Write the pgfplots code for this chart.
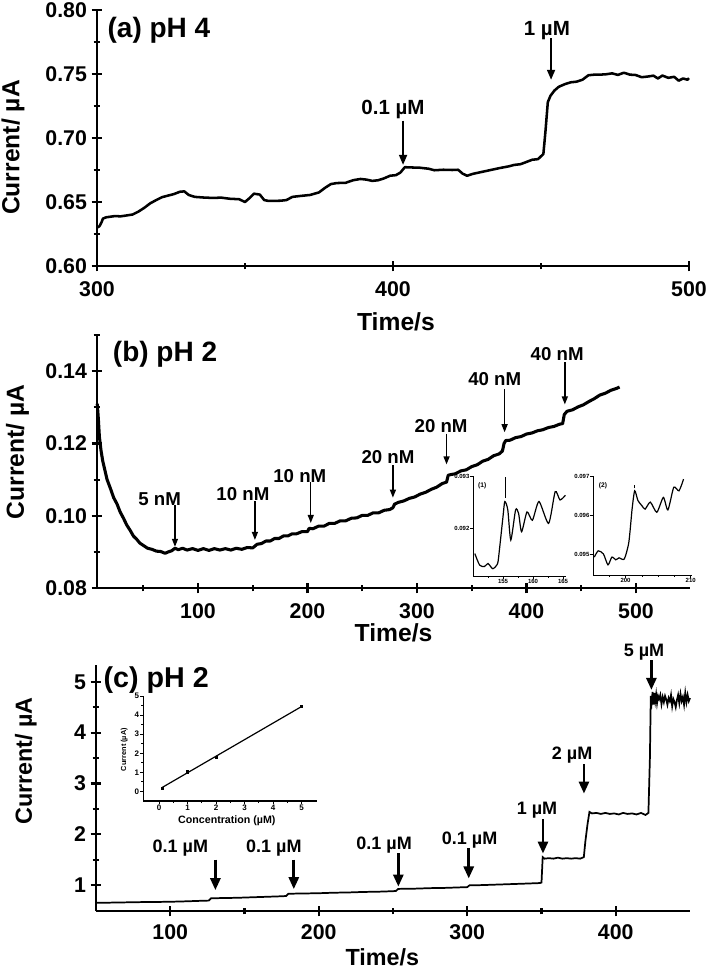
\documentclass[border=0pt]{standalone}
\usepackage{fontspec}
\setmainfont{Liberation Sans}
\usepackage{pgfplots}
\pgfplotsset{compat=1.18}
\usetikzlibrary{arrows.meta}
\newcommand\fs[1]{\fontsize{#1}{#1}\selectfont\bfseries}
\pgfplotsset{
  mainax/.style={scale only axis, axis lines=left, axis line style={-, line width=2pt},
    clip=false, tick align=center, major tick length=8pt, minor tick length=5pt,
    every tick/.style={line width=1.6pt, black}, scaled ticks=false,
    /pgf/number format/assume math mode=true,
    tick label style={font=\fs{16}},
    xticklabel style={yshift=-4pt},
    label style={font=\fs{18.5}},
    xlabel={Time/s}, ylabel={Current/ µA}},
  inax/.style={scale only axis, axis lines=left, axis line style={-, line width=0.7pt},
    tick align=outside, major tick length=2pt, minor tick length=1.2pt,
    every tick/.style={line width=0.5pt, black}, scaled ticks=false,
    /pgf/number format/assume math mode=true,
    tick label style={font=\fs{4.5}, inner sep=0.5pt}},
}
\tikzset{
  arra/.style={line width=1.3pt, -{Triangle[length=7.5pt, width=6pt]}},
  arrb/.style={line width=1pt, -{Triangle[length=6pt, width=4.5pt]}},
  arrc/.style={line width=2pt, -{Triangle[length=9pt, width=7.5pt]}},
}
\begin{document}
\begin{tikzpicture}
\path[use as bounding box] (0,0) rectangle (531pt,-727.5pt);
% ---------------- (a)
\begin{axis}[mainax, at={(72.75pt,-199.5pt)}, anchor=south west,
  width=444pt, height=192pt, xmin=300, xmax=500, ymin=0.6, ymax=0.8,
  xtick={300,400,500}, minor xtick={350,450},
  ytick={0.6,0.65,0.7,0.75,0.8}, minor ytick={0.625,0.675,0.725,0.775},
  yticklabel style={/pgf/number format/.cd, fixed, fixed zerofill, precision=2},
  ylabel style={at={(axis description cs:-0.142,0.463)}, anchor=center},
  xlabel style={at={(axis description cs:0.505,-0.219)}, anchor=center}]
\addplot[line width=1.9pt, black, line join=round] coordinates {
(300.0,0.630)(300.8,0.631)(301.5,0.634)(302.0,0.637)(303.0,0.638)(304.5,0.6385)
(306,0.639)(308,0.6388)(310,0.6395)(312,0.6402)(314,0.6425)(316,0.6455)(318,0.649)
(320,0.6515)(322,0.6538)(324,0.655)(326,0.6562)(328,0.658)(329.5,0.6583)(331,0.6555)
(333,0.654)(336,0.6535)(339,0.6532)(342,0.6534)(345,0.6525)(348,0.6522)(350,0.650)
(351.5,0.653)(353,0.6565)(355,0.6558)(356.5,0.6515)(358,0.6508)(362,0.651)(364,0.6515)
(366,0.654)(369,0.6548)(372,0.6555)(375,0.6575)(377,0.661)(379,0.664)(381,0.6648)
(384,0.665)(386.5,0.667)(389,0.668)(391,0.6675)(393,0.6665)(395,0.667)(397,0.6685)
(399,0.6705)(401,0.671)(402.5,0.673)(404,0.6772)(406,0.677)(409,0.6768)(412,0.676)
(414,0.6748)(417,0.6752)(420,0.675)(422,0.6752)(423.5,0.6722)(425,0.6705)(427,0.672)
(430,0.6735)(433,0.675)(436,0.6765)(439,0.6778)(441,0.679)(443,0.6795)(445,0.6812)
(447,0.683)(449,0.6835)(450.8,0.6875)(451.5,0.705)(452.3,0.728)(453.2,0.733)
(454.5,0.737)(456,0.740)(458,0.742)(460,0.7435)(462,0.744)(464,0.7455)(466,0.749)
(468,0.7495)(470,0.7495)(472,0.7498)(474,0.7505)(476,0.7493)(478,0.751)(480,0.7495)
(482,0.7492)(484,0.7475)(486,0.748)(488,0.7487)(489.5,0.7465)(491,0.7488)(493,0.747)
(495,0.7478)(496.5,0.7448)(498,0.7465)(499.5,0.7455)(500,0.7468)};
\node[anchor=west, font=\fs{21}] at (axis description cs:0.01,0.922) {(a) pH 4};
\node[font=\fs{15.4}] at (axis cs:400,0.722) {0.1 µM};
\draw[arra] (axis cs:403.4,0.7135) -- (axis cs:403.4,0.679);
\node[font=\fs{15.4}] at (axis cs:452,0.784) {1 µM};
\draw[arra] (axis cs:453.4,0.778) -- (axis cs:453.4,0.7455);
\end{axis}
% ---------------- (b)
\begin{axis}[mainax, at={(72.75pt,-441pt)}, anchor=south west,
  width=444.75pt, height=189.75pt, xmin=7.8, xmax=549.3, ymin=0.08, ymax=0.150,
  xtick={100,200,300,400,500}, minor xtick={50,150,250,350,450,550},
  ytick={0.08,0.1,0.12,0.14}, minor ytick={0.09,0.11,0.13,0.15},
  yticklabel style={/pgf/number format/.cd, fixed, fixed zerofill, precision=2},
  ylabel style={at={(axis description cs:-0.134,0.538)}, anchor=center},
  xlabel style={at={(axis description cs:0.5,-0.178)}, anchor=center}]
\addplot[line width=2.3pt, black, line join=round] coordinates {
(8,0.1310)(9,0.1270)(10,0.1218)(11.5,0.1180)(13,0.1152)(15,0.1126)(17,0.1100)
(20,0.1076)(23,0.1050)(26,0.1033)(29,0.1010)(32,0.0993)(35,0.0974)(38,0.0960)
(41,0.0944)(44,0.0935)(47,0.0924)(50,0.0918)(54,0.0910)(58,0.0907)(62,0.0902)
(66,0.0901)(70,0.0896)(73,0.0900)(76,0.0903)(79,0.0910)(82,0.0906)(86,0.0910)
(90,0.0905)(95,0.0909)(100,0.0904)(105,0.0909)(110,0.0904)(115,0.0909)(120,0.0905)
(125,0.0909)(130,0.0905)(135,0.0910)(140,0.0907)(145,0.0912)(150,0.0911)(152,0.0916)
(154,0.0921)(158,0.0923)(162,0.0930)(166,0.0930)(170,0.0937)(174,0.0937)(178,0.0944)
(182,0.0944)(186,0.0950)(190,0.0950)(195,0.0956)(200,0.0956)(201.5,0.0965)(205,0.0964)
(210,0.0971)(215,0.0971)(220,0.0979)(225,0.0979)(230,0.0986)(235,0.0986)(240,0.0993)
(245,0.0994)(250,0.1001)(255,0.1001)(260,0.1008)(265,0.1008)(270,0.1015)(275,0.1017)
(278,0.1022)(279.5,0.1032)(283,0.1037)(288,0.1041)(293,0.1048)(298,0.1052)(303,0.1060)
(308,0.1065)(313,0.1073)(318,0.1079)(323,0.1089)(327,0.1093)(328.5,0.1112)(331,0.1114)
(335,0.1116)(340,0.1124)(345,0.1127)(350,0.1136)(355,0.1141)(360,0.1151)(365,0.1156)
(370,0.1166)(375,0.1171)(378,0.1179)(379.5,0.1200)(381,0.1208)(385,0.1209)(390,0.1216)
(395,0.1219)(400,0.1226)(405,0.1229)(410,0.1235)(415,0.1238)(420,0.1244)(425,0.1247)
(430,0.1253)(433,0.1255)(434.5,0.1280)(437,0.1289)(442,0.1293)(447,0.1301)(452,0.1307)
(457,0.1316)(462,0.1324)(467,0.1334)(472,0.1339)(477,0.1347)(482,0.1352)(485,0.1356)};
\node[anchor=west, font=\fs{21}] at (axis description cs:0.019,0.925) {(b) pH 2};
\node[font=\fs{14}] at (axis cs:65,0.1046) {5 nM};
\draw[arrb] (axis cs:79,0.1030) -- (axis cs:79,0.0914);
\node[font=\fs{14}] at (axis cs:141,0.1060) {10 nM};
\draw[arrb] (axis cs:152,0.1040) -- (axis cs:152,0.0933);
\node[font=\fs{14}] at (axis cs:193,0.1110) {10 nM};
\draw[arrb] (axis cs:203,0.1092) -- (axis cs:203,0.0980);
\node[font=\fs{14}] at (axis cs:273.5,0.1163) {20 nM};
\draw[arrb] (axis cs:278,0.1140) -- (axis cs:278,0.1050);
\node[font=\fs{14}] at (axis cs:322,0.1249) {20 nM};
\draw[arrb] (axis cs:327,0.1227) -- (axis cs:327,0.1142);
\node[font=\fs{14}] at (axis cs:371,0.1377) {40 nM};
\draw[arrb] (axis cs:380,0.1350) -- (axis cs:380,0.1231);
\node[font=\fs{14}] at (axis cs:428,0.1446) {40 nM};
\draw[arrb] (axis cs:435,0.1425) -- (axis cs:435,0.1308);
\end{axis}
% inset b1
\begin{axis}[inax, at={(354.75pt,-432pt)}, anchor=south west,
  width=69.75pt, height=75pt, xmin=150, xmax=165.5, ymin=0.09108, ymax=0.093,
  xtick={155,160,165}, minor xtick={152.5,157.5,162.5},
  ytick={0.092,0.093},
  yticklabel style={/pgf/number format/.cd, fixed, fixed zerofill, precision=3}]
\addplot[line width=0.9pt, black, smooth, tension=0.4] coordinates {
(150.3,0.09151)(151.1,0.09129)(151.9,0.09126)(152.5,0.09132)(153.3,0.09122)(154.1,0.09132)
(154.4,0.09158)(155.0,0.09222)(155.3,0.09251)(155.8,0.09235)(156.3,0.09177)(157.1,0.09235)
(157.6,0.09228)(158.1,0.09193)(159.0,0.09231)(159.9,0.09215)(161.0,0.09251)(162.6,0.09209)
(163.7,0.0927)(164.5,0.09254)(165.4,0.09263)};
\draw[line width=0.5pt] (axis cs:155.4,0.09298) -- (axis cs:155.4,0.09258);
\node[font=\fs{5}] at (axis description cs:0.1,0.9) {(1)};
\end{axis}
% inset b2
\begin{axis}[inax, at={(444.75pt,-431.25pt)}, anchor=south west,
  width=74.25pt, height=74.25pt, xmin=195, xmax=210.2, ymin=0.09446, ymax=0.097,
  xtick={200,210}, minor xtick={197.5,202.5,205,207.5},
  ytick={0.095,0.096,0.097},
  yticklabel style={/pgf/number format/.cd, fixed, fixed zerofill, precision=3}]
\addplot[line width=0.9pt, black, smooth, tension=0.4] coordinates {
(195.2,0.09492)(195.8,0.09508)(196.6,0.0950)(197.3,0.09472)(197.9,0.09492)(198.5,0.09485)
(199.0,0.0949)(199.8,0.09487)(200.5,0.0953)(201.0,0.09615)(201.4,0.09662)(201.9,0.09637)
(202.5,0.09624)(203.0,0.09615)(203.8,0.09633)(204.8,0.09607)(205.8,0.09645)(206.5,0.09613)
(207.4,0.09671)(208.2,0.09662)(208.9,0.09692)};
\draw[line width=0.6pt] (axis cs:201.4,0.09668) -- (axis cs:201.4,0.09676);
\node[font=\fs{5}] at (axis description cs:0.1,0.9) {(2)};
\end{axis}
% ---------------- (c)
\begin{axis}[mainax, at={(72pt,-683.25pt)}, anchor=south west,
  width=445.5pt, height=184.5pt, xmin=50, xmax=450, ymin=0.49, ymax=5.33,
  xtick={100,200,300,400}, minor xtick={150,250,350},
  xticklabel style={yshift=1pt},
  ytick={1,2,3,4,5}, minor ytick={1.5,2.5,3.5,4.5},
  ylabel style={at={(axis description cs:-0.118,0.61)}, anchor=center, font=\fs{17.5}},
  xlabel style={at={(axis description cs:0.482,-0.187)}, anchor=center, font=\fs{17.5}}]
\addplot[line width=1.3pt, black] coordinates {
(50,0.65)(60,0.655)(70,0.66)(80,0.665)(90,0.668)(100,0.672)(110,0.68)(120,0.69)(126,0.695)
(127.5,0.74)(135,0.745)(145,0.75)(155,0.76)(165,0.77)(175,0.78)(178,0.785)(179.5,0.83)
(190,0.835)(200,0.84)(210,0.85)(220,0.855)(230,0.865)(240,0.87)(250,0.88)(252,0.885)
(253.5,0.925)(265,0.93)(275,0.94)(285,0.945)(295,0.955)(300,0.96)(301.5,0.995)(310,1.0)
(320,1.01)(330,1.02)(340,1.03)(349,1.04)(350,1.05)(350.8,1.55)(352,1.52)(355,1.53)
(358,1.52)(361,1.54)(364,1.52)(367,1.53)(370,1.52)(373,1.53)(376,1.52)(378.5,1.55)
(379.5,1.85)(381,2.2)(382.3,2.44)(384,2.41)(387,2.42)(390,2.40)(393,2.42)(396,2.40)
(399,2.41)(402,2.39)(405,2.42)(408,2.40)(411,2.41)(414,2.39)(417,2.42)(420,2.38)(422,2.42)
(423,3.5)(423.6,4.72)(424.2,4.60)(424.8,4.80)(425.4,4.55)(426,4.78)(426.6,4.62)(427.2,4.75)
(427.8,4.58)(428.5,4.72)(429.2,4.66)(430,4.74)(430.8,4.56)(431.6,4.70)(432.4,4.60)
(433.2,4.72)(434,4.65)(434.8,4.55)(435.6,4.68)(436.4,4.62)(437.2,4.74)(438,4.52)(438.8,4.66)
(439.6,4.60)(440.4,4.50)(441.2,4.64)(442,4.74)(442.8,4.58)(443.6,4.76)(444.4,4.62)
(445.2,4.70)(446,4.55)(446.8,4.78)(447.6,4.60)(448.4,4.74)(449.2,4.62)(450,4.68)};
\node[anchor=west, font=\fs{21.5}] at (axis description cs:0.005,0.937) {(c) pH 2};
\node[font=\fs{13.5}] at (axis cs:106.8,1.73) {0.1 µM};
\draw[arrc] (axis cs:130.4,1.50) -- (axis cs:130.4,0.90);
\node[font=\fs{13.5}] at (axis cs:169.8,1.73) {0.1 µM};
\draw[arrc] (axis cs:183.2,1.50) -- (axis cs:183.2,0.92);
\node[font=\fs{13.5}] at (axis cs:244,1.79) {0.1 µM};
\draw[arrc] (axis cs:253.6,1.63) -- (axis cs:253.6,0.97);
\node[font=\fs{13.5}] at (axis cs:301.6,1.89) {0.1 µM};
\draw[arrc] (axis cs:301,1.73) -- (axis cs:301,1.13);
\node[font=\fs{13.5}] at (axis cs:347,2.48) {1 µM};
\draw[arrc] (axis cs:351,2.30) -- (axis cs:351,1.62);
\node[font=\fs{13.5}] at (axis cs:370.6,3.56) {2 µM};
\draw[arrc] (axis cs:378.6,3.38) -- (axis cs:378.6,2.80);
\node[font=\fs{13.5}] at (axis cs:419,5.58) {5 µM};
\draw[arrc] (axis cs:424,5.42) -- (axis cs:424,4.84);
\end{axis}
% inset c
\begin{axis}[inax, at={(107.5pt,-600.75pt)}, anchor=south west,
  width=130.5pt, height=78.75pt, xmin=-0.55, xmax=5.55, ymin=-0.5, ymax=5,
  axis line style={-, line width=1pt}, major tick length=2.5pt, minor tick length=1.5pt,
  every tick/.style={line width=0.7pt, black},
  xtick={0,1,2,3,4,5}, minor xtick={0.5,1.5,2.5,3.5,4.5},
  ytick={0,1,2,3,4,5}, minor ytick={0.5,1.5,2.5,3.5,4.5},
  tick label style={font=\fs{6}},
  xlabel={Concentration (µM)}, ylabel={Current (µA)},
  xlabel style={font=\fs{8}, at={(axis description cs:0.48,-0.19)}, anchor=center},
  ylabel style={font=\fs{5.5}, at={(axis description cs:-0.11,0.49)}, anchor=center}]
\addplot[line width=0.9pt, black] coordinates {(0.1,0.2)(5,4.45)};
\addplot[only marks, mark=square*, mark size=0.8pt, black] coordinates {
(0.1,0.18)(1,1.03)(2,1.8)(5,4.45)};
\end{axis}
\end{tikzpicture}
\end{document}
